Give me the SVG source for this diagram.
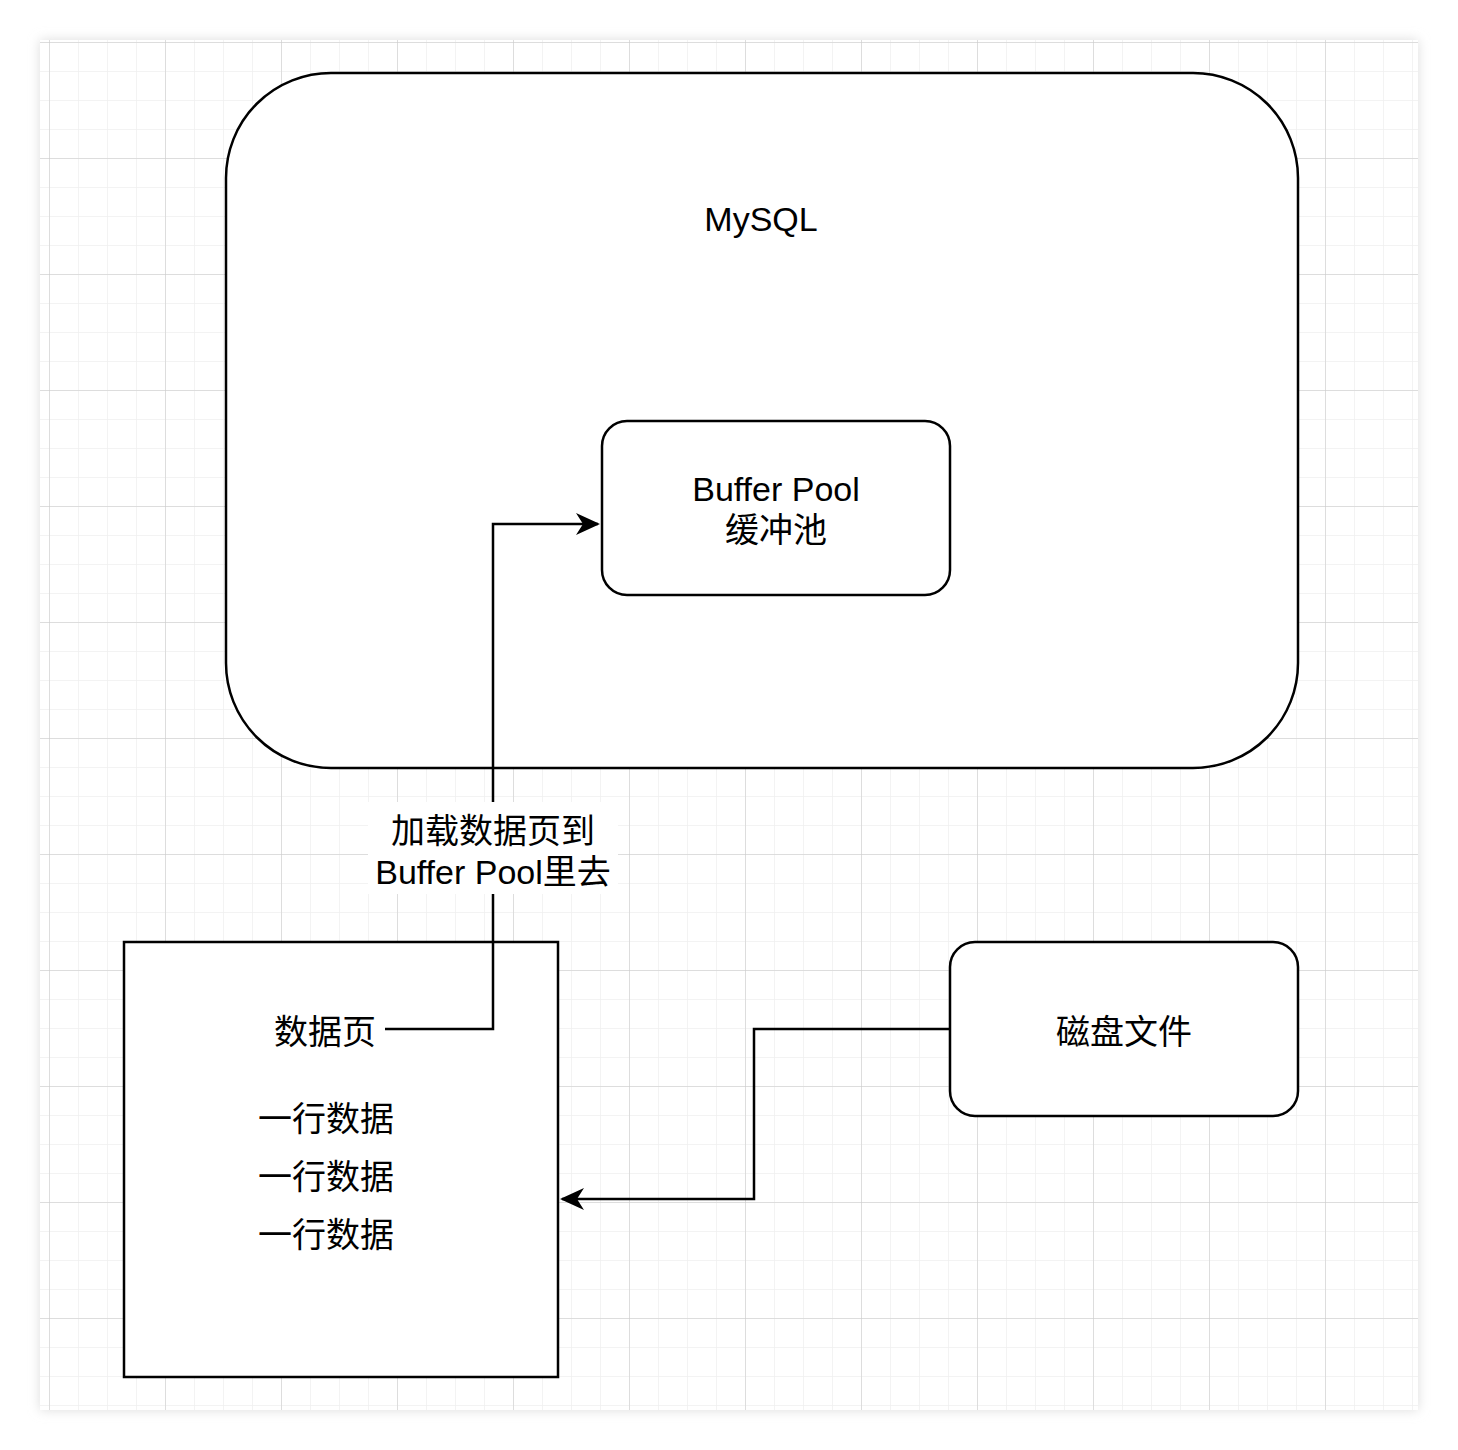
<svg xmlns="http://www.w3.org/2000/svg" width="1458" height="1450" viewBox="0 0 1458 1450">
<defs>
<pattern id="minor" x="49" y="42" width="29" height="29" patternUnits="userSpaceOnUse"><path d="M0 0H29M0 0V29" fill="none" stroke="#efefef" stroke-width="1.5"/></pattern>
<pattern id="major" x="49" y="42" width="116" height="116" patternUnits="userSpaceOnUse"><path d="M0 0H116M0 0V116" fill="none" stroke="#c8c8c8" stroke-width="1"/></pattern>
<marker id="arr" viewBox="0 0 24 24" refX="22" refY="12" markerWidth="24" markerHeight="24" markerUnits="userSpaceOnUse" orient="auto"><path d="M0 1L24 12L0 23L7 12Z" fill="#000"/></marker>
<filter id="sh" x="-5%" y="-5%" width="110%" height="110%"><feGaussianBlur stdDeviation="6"/></filter>
</defs>
<style>
.n{fill:#fff;stroke:#000;stroke-width:2.5}
.t{font-family:"Liberation Sans","Noto Sans CJK SC",sans-serif;font-size:34px;text-anchor:middle;fill:#000}
.c{fill:none;stroke:#000;stroke-width:2.5}
</style>
<rect width="1458" height="1450" fill="#fff"/>
<rect x="40" y="40" width="1378" height="1370" fill="#ddd" filter="url(#sh)"/>
<rect x="40" y="40" width="1378" height="1370" fill="#fff"/>
<rect x="40" y="40" width="1378" height="1370" fill="url(#minor)"/>
<rect x="40" y="40" width="1378" height="1370" fill="url(#major)"/>
<g id="mysql"><rect class="n" x="226" y="73" width="1072" height="695" rx="105"/><text class="t" x="761" y="231">MySQL</text></g>
<g id="bufferpool"><rect class="n" x="602" y="421" width="348" height="174" rx="25"/><text class="t" x="776" y="501">Buffer Pool</text><text class="t" x="776" y="542">缓冲池</text></g>
<g id="datapage"><rect class="n" x="124" y="942" width="434" height="435"/><text class="t" x="325" y="1044">数据页</text><text class="t" x="326" y="1131">一行数据</text><text class="t" x="326" y="1189">一行数据</text><text class="t" x="326" y="1247">一行数据</text></g>
<g id="disk"><rect class="n" x="950" y="942" width="348" height="174" rx="25"/><text class="t" x="1124" y="1044">磁盘文件</text></g>
<g id="connectors">
<path class="c" d="M385 1029H493V524H598" marker-end="url(#arr)"/>
<path class="c" d="M950 1029H754V1199H562" marker-end="url(#arr)"/>
<rect x="368" y="802" width="250" height="92" fill="#fff"/>
<text class="t" x="493" y="843">加载数据页到</text>
<text class="t" x="493" y="884">Buffer Pool里去</text>
</g>
</svg>
